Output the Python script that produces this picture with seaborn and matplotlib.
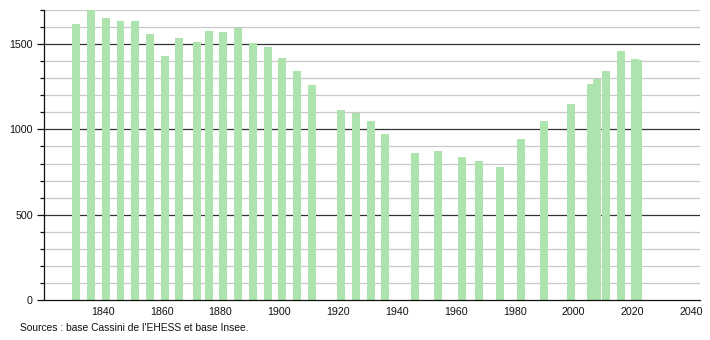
import matplotlib
matplotlib.use("Agg")
import matplotlib.pyplot as plt
import seaborn as sns
import pandas as pd
import numpy as np
from matplotlib.ticker import MultipleLocator

years = [1831, 1836, 1841, 1846, 1851, 1856, 1861, 1866, 1872, 1876, 1881, 1886,
         1891, 1896, 1901, 1906, 1911, 1921, 1926, 1931, 1936, 1946, 1954, 1962,
         1968, 1975, 1982, 1990, 1999, 2006, 2008, 2011, 2016, 2021, 2022]
population = [1618, 1710, 1653, 1635, 1635, 1557, 1429, 1535, 1512, 1578, 1571, 1596,
              1508, 1482, 1418, 1343, 1259, 1112, 1098, 1047, 976, 859, 875, 841,
              812, 780, 945, 1047, 1147, 1265, 1294, 1343, 1461, 1412, 1405]
x_ticks = [1840, 1860, 1880, 1900, 1920, 1940, 1960, 1980, 2000, 2020, 2040]
y_ticks = [0, 500, 1000, 1500]
source_text = "Sources : base Cassini de l'EHESS et base Insee."

df = pd.DataFrame({"year": years, "population": population})

sns.set_style("white")
plt.rcParams["font.family"] = ["Liberation Sans", "DejaVu Sans"]

fig = plt.figure(figsize=(7.1, 3.4), dpi=100)
ax = fig.add_axes([44 / 710, 40 / 340, 656 / 710, 290 / 340])

# grid lines
for v in range(100, 1800, 100):
    if v % 500 == 0:
        ax.axhline(v, color="#333333", lw=0.9, zorder=1)
    else:
        ax.axhline(v, color="#c8c8c8", lw=0.9, zorder=1)

sns.barplot(data=df, x="year", y="population", native_scale=True, color="#ade3ad",
            saturation=1, width=2.7, ax=ax, zorder=2, edgecolor="none")

ax.set_xlim(1820, 2043)
ax.set_ylim(0, 1700)
ax.set_xticks(x_ticks)
ax.set_xticklabels([str(t) for t in x_ticks])
ax.set_yticks(y_ticks)
ax.yaxis.set_minor_locator(MultipleLocator(100))
ax.tick_params(axis="x", length=0, labelsize=7.7, pad=5, colors="#111111")
ax.tick_params(axis="y", which="major", length=5, width=0.9, labelsize=7.7, pad=3, colors="#111111", direction="out", left=True)
ax.tick_params(axis="y", which="minor", length=3, width=0.9, left=True, color="#111111")
ax.set_xlabel("")
ax.set_ylabel("")
for s in ["top", "right"]:
    ax.spines[s].set_visible(False)
ax.spines["left"].set_color("#111111")
ax.spines["bottom"].set_color("#111111")
ax.spines["left"].set_linewidth(0.9)
ax.spines["bottom"].set_linewidth(0.9)
ax.spines["left"].set_zorder(3)
ax.spines["bottom"].set_zorder(3)

fig.text(20 / 710, 1 - 328 / 340, source_text, fontsize=7.4, color="#111111", va="center", ha="left")

fig.savefig("out.png", dpi=100)
